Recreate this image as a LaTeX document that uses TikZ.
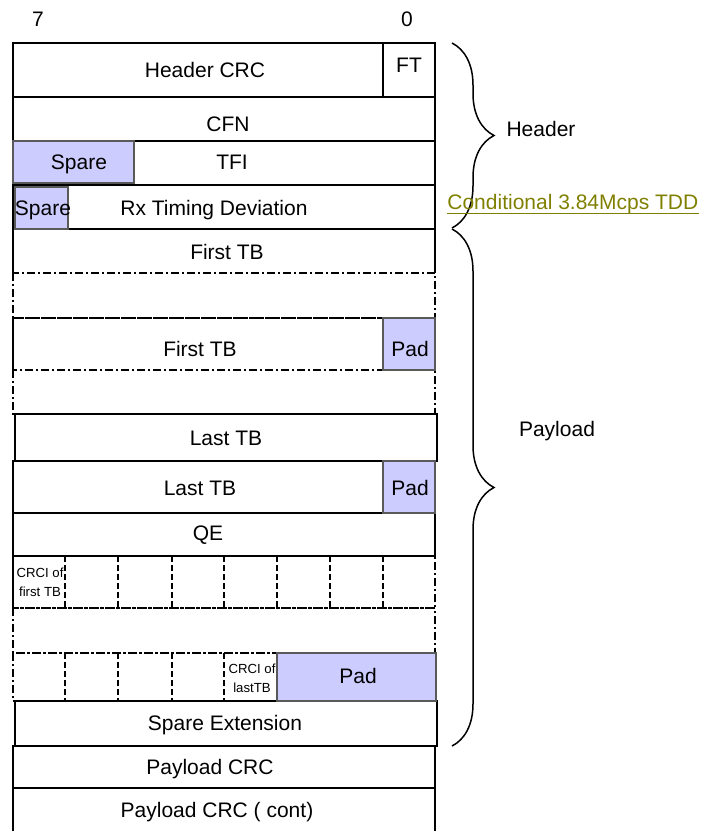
\documentclass[tikz,border=0pt]{standalone}
\usepackage{fontspec}
\setmainfont{Liberation Sans}
\usepackage{xcolor}
\usepackage{tikz}
\usetikzlibrary{decorations.pathreplacing}
\definecolor{padfill}{HTML}{CCCCFF}
\definecolor{cond}{HTML}{808000}
\tikzset{
  box/.style={draw=black, line width=0.75pt},
  ddash/.style={draw=black, line width=0.7pt, dash pattern=on 4pt off 1.5pt on 1pt off 1.5pt},
  cell/.style={draw=black, line width=0.7pt, dash pattern=on 3pt off 1.5pt},
  padbox/.style={fill=padfill, draw=black!65, line width=0.6pt},
  lab/.style={font=\fontsize{10.5}{12}\selectfont, inner sep=0pt, text height=7.5pt, text depth=0pt},
  small/.style={font=\fontsize{6.6}{9.5}\selectfont, inner sep=0pt, align=center},
  brc/.style={draw=black, line width=0.75pt, decorate, decoration={brace, amplitude=21pt}},
}

\begin{document}
\begin{tikzpicture}[x=0.5pt, y=-0.5pt]
  \useasboundingbox (0,0) rectangle (704,831);
  \clip (0,0) rectangle (704,831);
  \foreach \a/\b in {43/97,97/141,141/185,185/229,461/513,513/556,746/788}
    \draw[box] (13,\a) rectangle (435,\b);
  \draw[box] (383,43) -- (383,97);
  \draw[box] (13,273) |- (435,229) -- (435,273);
  \foreach \a/\b in {273/318,318/370,370/414,556/608,608/653,653/701}
    \draw[ddash] (13,\a) rectangle (435,\b);
  \draw[box] (13,318) -- (13,370);
  \draw[box] (15,414) rectangle (437,461);
  \draw[box] (15,701) rectangle (437,746);
  \draw[box] (13,850) |- (435,788) -- (435,850);
  \foreach \x in {65,118,172,224,277,330,383}
    \draw[cell] (\x,556) -- (\x,608);
  \foreach \x in {65,118,172,224}
    \draw[cell] (\x,653) -- (\x,701);
  \draw[box] (13,556) -- (13,608);
  \draw[padbox] (13,141) rectangle (134,183);
  \draw[padbox] (15,187) rectangle (68,229);
  \draw[padbox] (383,318) rectangle (435,370);
  \draw[padbox] (383,461) rectangle (435,513);
  \draw[padbox] (277,653) rectangle (436,701);

  \node[lab] (bit7) at (38,19) {7};
  \node[lab] (bit0) at (407,19) {0};
  \node[lab] (hcrc) at (205,70) {Header CRC};
  \node[lab] (ft) at (409,65) {FT};
  \node[lab] (cfn) at (228,124) {CFN};
  \node[lab] (spare1) at (79,162) {Spare};
  \node[lab] (tfi) at (232,162) {TFI};
  \node[lab] (spare2) at (43,208) {Spare};
  \node[lab] (rxtd) at (214,208) {Rx Timing Deviation};
  \node[lab] (tb1) at (227,252) {First TB};
  \node[lab] (tb2) at (200,349) {First TB};
  \node[lab] (pad1) at (410,349) {Pad};
  \node[lab] (tb3) at (226,438) {Last TB};
  \node[lab] (tb4) at (200,488) {Last TB};
  \node[lab] (pad2) at (410,488) {Pad};
  \node[lab] (qe) at (208,533) {QE};
  \node[small] (crci1) at (40,582) {CRCI of\\first TB};
  \node[small] (crci2) at (252,678) {CRCI of\\lastTB};
  \node[lab] (pad3) at (358,676) {Pad};
  \node[lab] (spext) at (225,723) {Spare Extension};
  \node[lab] (pcrc) at (210,767) {Payload CRC};
  \node[lab] (pcrc2) at (217,810) {Payload CRC ( cont)};

  \coordinate (hdtop) at (452,43);
  \coordinate (hdbot) at (452,228);
  \coordinate (pltop) at (452,229);
  \coordinate (plbot) at (452,746);
  \draw[brc] (hdtop) -- (hdbot);
  \draw[brc] (pltop) -- (plbot);
  \node[lab] (hdr) at (541,129) {Header};
  \node[lab] (pld) at (557,429) {Payload};
  \node[lab, text=cond, anchor=west] (cnd) at (447,202) {Conditional 3.84Mcps TDD};
  \draw[draw=cond, line width=0.5pt] ([yshift=-2pt]cnd.base west) -- ([yshift=-2pt]cnd.base east);
\end{tikzpicture}
\end{document}
